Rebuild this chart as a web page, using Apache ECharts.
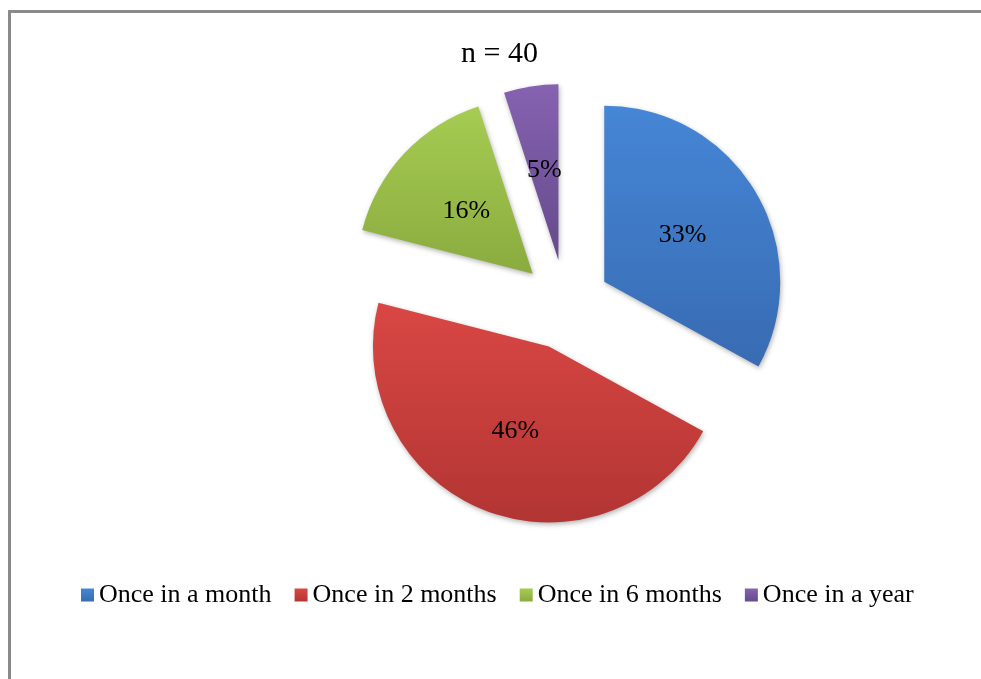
<!DOCTYPE html>
<html>
<head>
<meta charset="utf-8">
<script src="https://cdn.jsdelivr.net/npm/echarts@6/dist/echarts.min.js"></script>
<style>
  html, body { margin: 0; padding: 0; background: #fff; }
  #chart { width: 981px; height: 679px; }
</style>
</head>
<body>
<div id="chart"></div>
<script>
// Survey answers: how often (n = 40)
const categories = ['Once in a month', 'Once in 2 months', 'Once in 6 months', 'Once in a year'];
const shares = [33, 46, 16, 5];
const titleText = 'n = 40';

// top / bottom shades for each slice
const topColors = ['#4586d6', '#d94744', '#a6cc52', '#8662b0'];
const bottomColors = ['#386bb2', '#b23533', '#8aab3f', '#654a8c'];

const serif = '"Liberation Serif", "Times New Roman", serif';

function shade(i) {
  return new echarts.graphic.LinearGradient(0, 0, 0, 1, [
    { offset: 0, color: topColors[i] },
    { offset: 1, color: bottomColors[i] }
  ]);
}

const chart = echarts.init(document.getElementById('chart'), null, { renderer: 'canvas' });

chart.setOption({
  backgroundColor: '#ffffff',
  animation: false,
  graphic: [{
    type: 'rect',
    shape: { x: 9.5, y: 11.5, width: 1000, height: 700 },
    style: { fill: 'none', stroke: '#8a8a8a', lineWidth: 3 },
    silent: true
  }],
  title: {
    text: titleText,
    left: 461,
    top: 39,
    padding: 0,
    textStyle: { fontFamily: serif, fontSize: 30, fontWeight: 'normal', color: '#000' }
  },
  legend: {
    data: categories,
    left: 81,
    top: 582,
    padding: 0,
    icon: 'rect',
    itemWidth: 13,
    itemHeight: 13,
    itemGap: 23,
    selectedMode: false,
    textStyle: { fontFamily: serif, fontSize: 26, color: '#000' }
  },
  series: [{
    type: 'pie',
    center: [565.5, 304.6],
    radius: [0, 176],
    startAngle: 90,
    clockwise: true,
    selectedMode: 'multiple',
    selectedOffset: 45,
    avoidLabelOverlap: false,
    label: {
      show: true,
      position: 'inside',
      formatter: p => p.value + '%',
      fontFamily: serif,
      fontSize: 26,
      color: '#000'
    },
    labelLine: { show: false },
    emphasis: { disabled: true },
    itemStyle: {
      shadowBlur: 5,
      shadowOffsetX: 1,
      shadowOffsetY: 2,
      shadowColor: 'rgba(0,0,0,0.3)'
    },
    data: categories.map((name, i) => ({
      name: name,
      value: shares[i],
      selected: true,
      itemStyle: { color: shade(i) },
      select: { itemStyle: { color: shade(i) } }
    }))
  }]
});
</script>
</body>
</html>
